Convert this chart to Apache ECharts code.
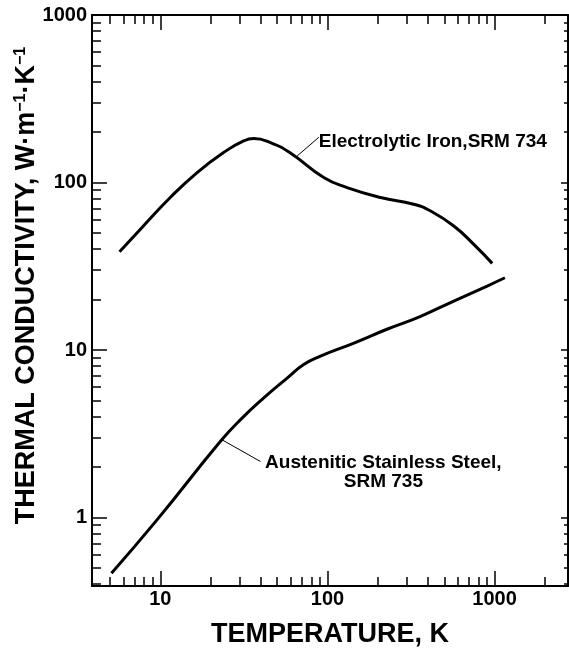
<!DOCTYPE html>
<html>
<head>
<meta charset="utf-8">
<title>Thermal conductivity of SRM 734 and SRM 735</title>
<script src="https://cdn.jsdelivr.net/npm/echarts@6.0.0/dist/echarts.min.js"></script>
<style>
  html, body { margin: 0; padding: 0; background: #fff; }
  #chart { width: 569px; height: 649px; }
</style>
</head>
<body>
<div id="chart"></div>
<script>
// temperature (K) and conductivity (W/m/K)
const ironT = [5.7, 7.6, 11.5, 16.6, 23.9, 31.5, 36.2, 45.6, 60, 95, 131, 208, 328, 414, 570, 751, 968];
const ironK = [38.6, 52.6, 81.6, 114.7, 151, 177, 183, 173, 150, 107, 93.3, 81.3, 74.2, 67.6, 55, 42.7, 32.9];

const steelT = [5.1, 9.55, 22.9, 30.2, 41.6, 57.4, 72.1, 90.8, 144, 227, 361, 570, 903, 1153];
const steelK = [0.465, 0.968, 2.85, 3.84, 5.18, 6.8, 8.18, 9.18, 11.0, 13.3, 15.9, 19.6, 24.1, 27.0];

// axis ranges and ticks
const xRange = [3.9, 2750];
const yRange = [0.39, 1000];
const xLabels = [10, 100, 1000];
const yLabels = [1, 10, 100, 1000];
const xMajor = [10, 100, 1000];
const xMinor = [5, 6, 7, 8, 9, 20, 30, 40, 50, 60, 70, 80, 90, 200, 300, 400, 500, 600, 700, 800, 900, 2000];
const yMajor = [1, 10, 100, 1000];
const yMinor = [0.4, 0.5, 0.6, 0.7, 0.8, 0.9, 2, 3, 4, 5, 6, 7, 8, 9, 20, 30, 40, 50, 60, 70, 80, 90, 200, 300, 400, 500, 600, 700, 800, 900];

const FONT = '"Liberation Sans", Arial, Helvetica, sans-serif';

function pairs(xs, ys) {
  return xs.map((x, i) => [x, ys[i]]);
}

function makeAxis(range, position, ticks, len, withLine) {
  return {
    type: 'log',
    logBase: 10,
    position: position,
    min: range[0],
    max: range[1],
    axisLine: { show: withLine, lineStyle: { color: '#000', width: 2 } },
    axisTick: {
      show: true,
      inside: true,
      length: len,
      customValues: ticks,
      lineStyle: { color: '#000', width: 1.5 }
    },
    axisLabel: { show: false },
    splitLine: { show: false },
    minorTick: { show: false }
  };
}

const chart = echarts.init(document.getElementById('chart'));

const xBottom = makeAxis(xRange, 'bottom', xMinor, 9, true);
xBottom.axisLabel = {
  show: true,
  customValues: xLabels,
  margin: 3,
  color: '#000',
  fontSize: 20,
  fontWeight: 'bold',
  fontFamily: FONT,
  formatter: (v) => String(Math.round(v))
};
xBottom.name = 'TEMPERATURE, K';
xBottom.nameLocation = 'middle';
xBottom.nameGap = 35;
xBottom.nameMoveOverlap = false;
xBottom.nameTextStyle = { color: '#000', fontSize: 27, fontWeight: 'bold', fontFamily: FONT };

const yLeft = makeAxis(yRange, 'left', yMinor, 9, true);
yLeft.axisLabel = {
  show: true,
  customValues: yLabels,
  margin: 5,
  color: '#000',
  fontSize: 20,
  fontWeight: 'bold',
  fontFamily: FONT,
  formatter: (v) => String(Math.round(v))
};
yLeft.name = '{m|THERMAL CONDUCTIVITY, W·m}{s|−1}{m|·K}{s|−1}';
yLeft.nameLocation = 'middle';
yLeft.nameRotate = 90;
yLeft.nameGap = 52;
yLeft.nameMoveOverlap = false;
yLeft.nameTextStyle = {
  color: '#000',
  fontFamily: FONT,
  fontWeight: 'bold',
  padding: [0, 0, 0, 30],
  rich: {
    m: { fontSize: 27, fontWeight: 'bold', fontFamily: FONT, color: '#000', lineHeight: 27, padding: [6, 0, 0, 0], verticalAlign: 'bottom' },
    s: { fontSize: 16, fontWeight: 'bold', fontFamily: FONT, color: '#000', lineHeight: 16, verticalAlign: 'top' }
  }
};

const option = {
  animation: false,
  backgroundColor: '#fff',
  grid: { left: 92, right: 1, top: 15, bottom: 63, containLabel: false, outerBoundsMode: 'none' },
  xAxis: [
    xBottom,
    makeAxis(xRange, 'bottom', xMajor, 15, false),
    makeAxis(xRange, 'top', xMinor, 9, true),
    makeAxis(xRange, 'top', xMajor, 15, false)
  ],
  yAxis: [
    yLeft,
    makeAxis(yRange, 'left', yMajor, 15, false),
    makeAxis(yRange, 'right', yMinor, 4, true),
    makeAxis(yRange, 'right', yMajor, 7, false)
  ],
  series: [
    {
      name: 'Electrolytic Iron, SRM 734',
      type: 'line',
      data: pairs(ironT, ironK),
      smooth: 0.5,
      symbol: 'none',
      lineStyle: { color: '#000', width: 3 },
      markLine: {
        silent: true,
        symbol: ['none', 'none'],
        label: { show: false },
        lineStyle: { color: '#000', width: 1, type: 'solid' },
        data: [[{ coord: [65.9, 144] }, { coord: [88.7, 186] }]]
      },
      markPoint: {
        silent: true,
        symbol: 'circle',
        symbolSize: 0,
        label: {
          show: true,
          position: 'inside',
          align: 'left',
          verticalAlign: 'middle',
          color: '#000',
          fontSize: 19,
          fontWeight: 'bold',
          fontFamily: FONT,
          formatter: 'Electrolytic Iron,SRM 734'
        },
        data: [{ coord: [88.7, 174] }]
      }
    },
    {
      name: 'Austenitic Stainless Steel, SRM 735',
      type: 'line',
      data: pairs(steelT, steelK),
      smooth: 0.5,
      symbol: 'none',
      lineStyle: { color: '#000', width: 3 },
      markLine: {
        silent: true,
        symbol: ['none', 'none'],
        label: { show: false },
        lineStyle: { color: '#000', width: 1, type: 'solid' },
        data: [[{ coord: [23.7, 2.89] }, { coord: [39.7, 2.16] }]]
      },
      markPoint: {
        silent: true,
        symbol: 'circle',
        symbolSize: 0,
        label: {
          show: true,
          position: 'inside',
          align: 'center',
          verticalAlign: 'middle',
          lineHeight: 19,
          color: '#000',
          fontSize: 19,
          fontWeight: 'bold',
          fontFamily: FONT,
          formatter: 'Austenitic Stainless Steel,\nSRM 735'
        },
        data: [{ coord: [216, 1.85] }]
      }
    }
  ]
};

chart.setOption(option);
</script>
</body>
</html>
